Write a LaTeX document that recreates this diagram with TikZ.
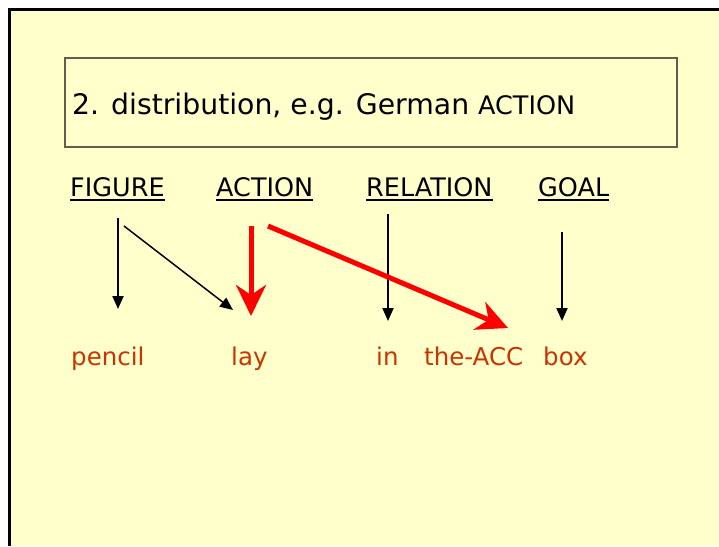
\documentclass[tikz,border=0pt]{standalone}
\usepackage{fontspec}
\setmainfont{DejaVu Sans}
\usetikzlibrary{arrows.meta}
\definecolor{slide}{HTML}{FFFFCC}
\definecolor{gloss}{HTML}{CC3300}
\definecolor{boxline}{HTML}{5F5F50}
\tikzset{
	role/.style={anchor=base west,inner sep=0pt,font=\fontsize{25.5}{30}\selectfont},
	word/.style={anchor=base west,inner sep=0pt,text=gloss,font=\fontsize{24.5}{29}\selectfont},
	link/.style={line width=2pt,-{Triangle[length=13pt,width=11pt]}},
	hit/.style={red,line width=5pt,-{Stealth[length=31pt,width=30pt,inset=10pt]}}
}
\begin{document}
\begin{tikzpicture}[x=1pt,y=-1pt]
	\path[use as bounding box,fill=white] (0,0) rectangle (719,546);
	\fill[slide] (9.5,9.5) rectangle (719,546);
	\draw[line width=3pt] (9.5,546) -- (9.5,9.5) -- (719,9.5);
	\node[draw=boxline,line width=1.5pt,minimum width=612pt,minimum height=89pt,inner sep=0pt] (tbox) at (371,102.5) {};
	\node[anchor=base west,inner sep=0pt,font=\fontsize{28.3}{34}\selectfont] (title) at (72,114) {2. distribution, e.g. German {\fontsize{25.5}{30}\selectfont ACTION}};
	\path (70,196) node[role] (FIG) {FIGURE}
		(216,196) node[role] (ACT) {ACTION}
		(366,196) node[role] (REL) {RELATION}
		(538,196) node[role] (GOAL) {GOAL};
	\foreach \n in {FIG,ACT,REL,GOAL}
		\draw[line width=2pt] ([yshift=-4pt]\n.base west) -- ([yshift=-4pt]\n.base east);
	\path (71,365) node[word] (pencil) {pencil}
		(231,365) node[word] (lay) {lay}
		(376,365) node[word] (in) {in}
		(424,365) node[word] (acc) {the-ACC}
		(543,365) node[word] (box) {box};
	\path (118,218) coordinate (fig0) (118,309) coordinate (fig1)
		(124,226) coordinate (fig2) (233,310) coordinate (fig3)
		(251,226) coordinate (act0) (251,316) coordinate (act1)
		(268,226) coordinate (act2) (508,328) coordinate (act3)
		(388,214) coordinate (rel0) (388,321) coordinate (rel1)
		(562,232) coordinate (goal0) (562,321) coordinate (goal1);
	\draw[link] (fig0) -- (fig1);
	\draw[link,line width=1.5pt] (fig2) -- (fig3);
	\draw[link] (rel0) -- (rel1);
	\draw[link] (goal0) -- (goal1);
	\draw[hit] (act0) -- (act1);
	\draw[hit] (act2) -- (act3);
\end{tikzpicture}
\end{document}
